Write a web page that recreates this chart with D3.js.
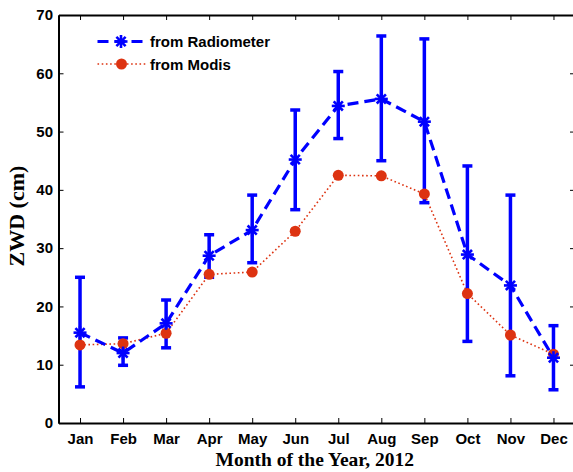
<!DOCTYPE html>
<html>
<head>
<meta charset="utf-8">
<script src="https://cdn.jsdelivr.net/npm/d3@7"></script>
<style>
body { margin: 0; background: #fff; }
</style>
</head>
<body>
<div id="chart"></div>
<script>
var months = ["Jan","Feb","Mar","Apr","May","Jun","Jul","Aug","Sep","Oct","Nov","Dec"];
var radiometer = [15.5, 12.0, 17.1, 28.7, 33.1, 45.2, 54.4, 55.6, 51.7, 28.9, 23.6, 11.2];
var radioLow   = [6.2, 9.9, 12.9, 25.0, 27.5, 36.6, 48.8, 45.0, 37.8, 14.0, 8.1, 5.7];
var radioHigh  = [25.0, 14.6, 21.1, 32.3, 39.1, 53.7, 60.3, 66.4, 65.9, 44.1, 39.1, 16.7];
var modis      = [13.4, 13.6, 15.4, 25.5, 25.9, 32.9, 42.5, 42.4, 39.3, 22.2, 15.1, 11.8];
var yTicks = [0, 10, 20, 30, 40, 50, 60, 70];

var W = 573, H = 472;
var margin = {top: 15, right: -2, bottom: 49, left: 58.5};
var width = W - margin.left - margin.right,
    height = H - margin.top - margin.bottom;

var svg = d3.select("#chart")
  .append("svg")
    .attr("width", W)
    .attr("height", H)
  .append("g")
    .attr("transform", "translate(" + margin.left + "," + margin.top + ")");

var x = d3.scaleLinear().domain([0.5, 12.5]).range([0, width]);
var y = d3.scaleLinear().domain([0, 70]).range([height, 0]);

var blue = "#0000ff", red = "#dd3311";

// axes with inward ticks
var xAxis = svg.append("g")
  .attr("transform", "translate(0," + height + ")")
  .call(d3.axisBottom(x).tickValues(d3.range(1, 13)).tickFormat(function(d) { return months[d - 1]; }).tickSizeInner(-5).tickSizeOuter(0).tickPadding(10));
var yAxis = svg.append("g")
  .call(d3.axisLeft(y).tickValues(yTicks).tickSizeInner(-5).tickSizeOuter(0).tickPadding(5.5));
svg.append("g")
  .call(d3.axisTop(x).tickValues(d3.range(1, 13)).tickFormat("").tickSizeInner(-5).tickSizeOuter(0));
svg.append("g")
  .attr("transform", "translate(" + width + ",0)")
  .call(d3.axisRight(y).tickValues(yTicks).tickFormat("").tickSizeInner(-5).tickSizeOuter(0));

svg.selectAll(".domain").attr("stroke", "#000").attr("stroke-width", 2);
svg.selectAll(".tick line").attr("stroke", "#000").attr("stroke-width", 1);
svg.selectAll(".tick text")
  .style("font-family", "Liberation Sans, Arial, sans-serif")
  .style("font-weight", "bold")
  .style("font-size", "15px")
  .attr("fill", "#000");

// axis titles
svg.append("text")
  .attr("x", x(6.5) - 2)
  .attr("y", height + 43)
  .attr("text-anchor", "middle")
  .style("font-family", "Liberation Serif, Times New Roman, serif")
  .style("font-weight", "bold")
  .style("font-size", "19.5px")
  .text("Month of the Year, 2012");

svg.append("text")
  .attr("transform", "translate(-34.5," + y(35.5) + ")rotate(-90)")
  .attr("text-anchor", "middle")
  .style("font-family", "Liberation Serif, Times New Roman, serif")
  .style("font-weight", "bold")
  .style("font-size", "22px")
  .text("ZWD (cm)");

var idx = d3.range(12);

// modis dotted line
var line = d3.line().x(function(d) { return x(d.i + 1); }).y(function(d) { return y(d.v); });
svg.append("path")
  .datum(idx.map(function(i) { return {i: i, v: modis[i]}; }))
  .attr("d", line)
  .attr("fill", "none")
  .attr("stroke", red)
  .attr("stroke-width", 1.6)
  .attr("stroke-dasharray", "1.6,2.6");

// error bars
var eb = svg.selectAll(".eb").data(idx).enter().append("g");
eb.append("line")
  .attr("x1", function(i) { return x(i + 1); })
  .attr("x2", function(i) { return x(i + 1); })
  .attr("y1", function(i) { return y(radioLow[i]); })
  .attr("y2", function(i) { return y(radioHigh[i]); })
  .attr("stroke", blue).attr("stroke-width", 3.5);
[radioLow, radioHigh].forEach(function(arr) {
  eb.append("line")
    .attr("x1", function(i) { return x(i + 1) - 5; })
    .attr("x2", function(i) { return x(i + 1) + 5; })
    .attr("y1", function(i) { return y(arr[i]); })
    .attr("y2", function(i) { return y(arr[i]); })
    .attr("stroke", blue).attr("stroke-width", 3.5);
});

// radiometer dashed line
svg.append("path")
  .datum(idx.map(function(i) { return {i: i, v: radiometer[i]}; }))
  .attr("d", line)
  .attr("fill", "none")
  .attr("stroke", blue)
  .attr("stroke-width", 3.2)
  .attr("stroke-dasharray", "11,6");

function star(g, cx, cy, r) {
  for (var k = 0; k < 4; k++) {
    var a = k * Math.PI / 4;
    g.append("line")
      .attr("x1", cx - r * Math.cos(a)).attr("y1", cy - r * Math.sin(a))
      .attr("x2", cx + r * Math.cos(a)).attr("y2", cy + r * Math.sin(a))
      .attr("stroke", blue).attr("stroke-width", 2.6);
  }
}

// modis dots
svg.selectAll(".md").data(idx).enter().append("circle")
  .attr("cx", function(i) { return x(i + 1); })
  .attr("cy", function(i) { return y(modis[i]); })
  .attr("r", 5.5)
  .attr("fill", red);

// radiometer stars
var stars = svg.append("g");
idx.forEach(function(i) { star(stars, x(i + 1), y(radiometer[i]), 6.5); });

// legend
var lg = svg.append("g");
lg.append("line").attr("x1", 39).attr("x2", 87).attr("y1", 26.5).attr("y2", 26.5)
  .attr("stroke", blue).attr("stroke-width", 3.2).attr("stroke-dasharray", "11,6");
star(lg, 62.5, 26.5, 6.5);
lg.append("line").attr("x1", 39).attr("x2", 87).attr("y1", 49).attr("y2", 49)
  .attr("stroke", red).attr("stroke-width", 1.6).attr("stroke-dasharray", "1.6,2.6");
lg.append("circle").attr("cx", 63).attr("cy", 49).attr("r", 5.5).attr("fill", red);
lg.append("text").attr("x", 91.5).attr("y", 32).text("from Radiometer");
lg.append("text").attr("x", 91.5).attr("y", 54.5).text("from Modis");
lg.selectAll("text")
  .style("font-family", "Liberation Sans, Arial, sans-serif")
  .style("font-weight", "bold")
  .style("font-size", "15px");
</script>
</body>
</html>
